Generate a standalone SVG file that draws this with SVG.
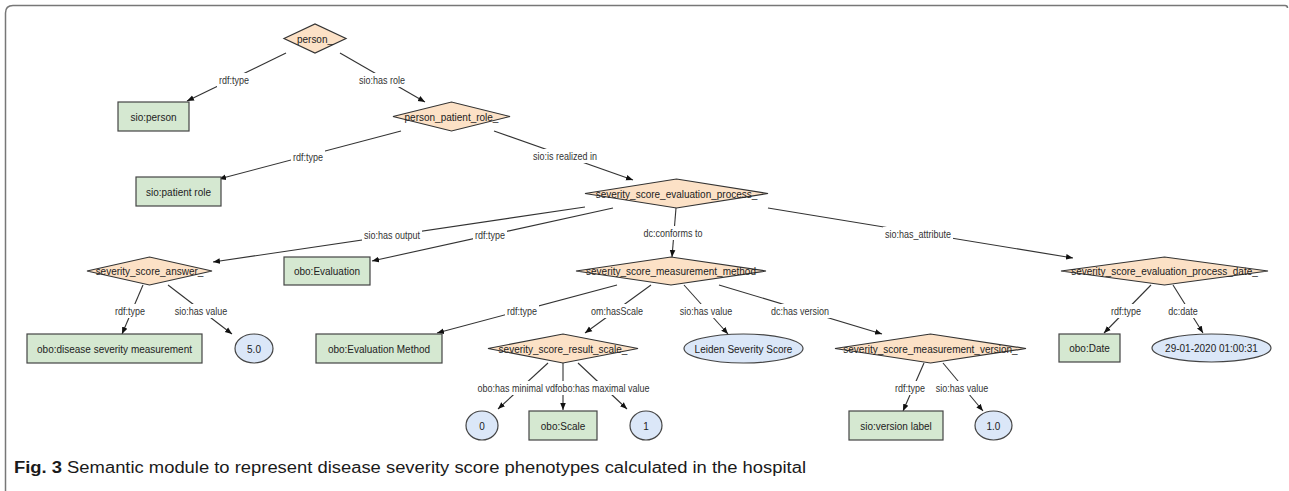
<svg xmlns="http://www.w3.org/2000/svg" width="1289" height="491" viewBox="0 0 1289 491">
<style>
.d{fill:#fce1c6;stroke:#333;stroke-width:1.2}
.r{fill:#d5e8d1;stroke:#444;stroke-width:1.2}
.e{fill:#dbe7f8;stroke:#444;stroke-width:1.2}
.t{font-family:"Liberation Sans",Arial,sans-serif;font-size:10px;fill:#222;text-anchor:middle}
.l{font-family:"Liberation Sans",Arial,sans-serif;font-size:9px;fill:#333;text-anchor:middle}
.bg{fill:#fff}
.c{stroke:#333;stroke-width:1.1;fill:none;marker-end:url(#arr)}
.cap{font-family:"Liberation Sans",Arial,sans-serif;font-size:16px;fill:#1a1a1a}
</style>
<defs>
<marker id="arr" viewBox="0 0 10 10" refX="10" refY="5" markerWidth="7" markerHeight="7" markerUnits="userSpaceOnUse" orient="auto"><path d="M0,1 L10,5 L0,9 z" fill="#111"/></marker>
</defs>
<rect width="1289" height="491" fill="#fff"/>
<path d="M5.5,491 V13 Q5.5,5.5 13,5.5 H1285 Q1287.5,5.5 1287.5,8" fill="none" stroke="#777" stroke-width="1.5"/>

<g id="connectors">
<line class="c" x1="286" y1="53" x2="187" y2="101"/>
<line class="c" x1="340" y1="53" x2="425" y2="102"/>
<line class="c" x1="401" y1="131" x2="219" y2="179"/>
<line class="c" x1="494" y1="131" x2="633" y2="180"/>
<line class="c" x1="585" y1="207" x2="213" y2="262"/>
<line class="c" x1="613" y1="208" x2="372" y2="261"/>
<line class="c" x1="676" y1="208" x2="672" y2="257"/>
<line class="c" x1="768" y1="208" x2="1073" y2="258"/>
<line class="c" x1="143" y1="285" x2="122" y2="334"/>
<line class="c" x1="168" y1="285" x2="232" y2="334"/>
<line class="c" x1="617" y1="285" x2="437" y2="333"/>
<line class="c" x1="651" y1="285" x2="585" y2="333"/>
<line class="c" x1="684" y1="285" x2="728" y2="334"/>
<line class="c" x1="719" y1="285" x2="882" y2="334"/>
<line class="c" x1="1151" y1="285" x2="1104" y2="333"/>
<line class="c" x1="1173" y1="285" x2="1203" y2="333"/>
<line class="c" x1="548" y1="363" x2="498" y2="409"/>
<line class="c" x1="563" y1="363" x2="563" y2="410"/>
<line class="c" x1="578" y1="363" x2="627" y2="409"/>
<line class="c" x1="924" y1="363" x2="903" y2="411"/>
<line class="c" x1="943" y1="363" x2="983" y2="411"/>

<rect class="bg" x="217" y="73" width="34" height="14"/><text class="l" x="234" y="0" transform="translate(0,83.5) scale(1,1.15)">rdf:type</text>
<rect class="bg" x="357" y="73" width="50" height="14"/><text class="l" x="382" y="0" transform="translate(0,83.5) scale(1,1.15)">sio:has role</text>
<rect class="bg" x="291" y="150" width="34" height="14"/><text class="l" x="308" y="0" transform="translate(0,160.5) scale(1,1.15)">rdf:type</text>
<rect class="bg" x="531" y="149" width="68" height="14"/><text class="l" x="565" y="0" transform="translate(0,159.5) scale(1,1.15)">sio:is realized in</text>
<rect class="bg" x="362" y="228" width="60" height="14"/><text class="l" x="392" y="0" transform="translate(0,238.5) scale(1,1.15)">sio:has output</text>
<rect class="bg" x="473" y="228" width="34" height="14"/><text class="l" x="490" y="0" transform="translate(0,238.5) scale(1,1.15)">rdf:type</text>
<rect class="bg" x="641.5" y="226" width="63" height="14"/><text class="l" x="673" y="0" transform="translate(0,236.5) scale(1,1.15)">dc:conforms to</text>
<rect class="bg" x="883" y="227" width="70" height="14"/><text class="l" x="918" y="0" transform="translate(0,237.5) scale(1,1.15)">sio:has_attribute</text>
<rect class="bg" x="113" y="304" width="34" height="14"/><text class="l" x="130" y="0" transform="translate(0,314.5) scale(1,1.15)">rdf:type</text>
<rect class="bg" x="172.75" y="304" width="56.5" height="14"/><text class="l" x="201" y="0" transform="translate(0,314.5) scale(1,1.15)">sio:has value</text>
<rect class="bg" x="505" y="304" width="34" height="14"/><text class="l" x="522" y="0" transform="translate(0,314.5) scale(1,1.15)">rdf:type</text>
<rect class="bg" x="589" y="304" width="56" height="14"/><text class="l" x="617" y="0" transform="translate(0,314.5) scale(1,1.15)">om:hasScale</text>
<rect class="bg" x="677.75" y="304" width="56.5" height="14"/><text class="l" x="706" y="0" transform="translate(0,314.5) scale(1,1.15)">sio:has value</text>
<rect class="bg" x="769" y="304" width="62" height="14"/><text class="l" x="800" y="0" transform="translate(0,314.5) scale(1,1.15)">dc:has version</text>
<rect class="bg" x="1109" y="304" width="34" height="14"/><text class="l" x="1126" y="0" transform="translate(0,314.5) scale(1,1.15)">rdf:type</text>
<rect class="bg" x="1166" y="304" width="34" height="14"/><text class="l" x="1183" y="0" transform="translate(0,314.5) scale(1,1.15)">dc:date</text>
<rect class="bg" x="475.5" y="381" width="176" height="14"/><text class="l" x="563.5" y="0" transform="translate(0,391.5) scale(1,1.15)">obo:has minimal vdfobo:has maximal value</text>
<rect class="bg" x="893" y="381" width="34" height="14"/><text class="l" x="910" y="0" transform="translate(0,391.5) scale(1,1.15)">rdf:type</text>
<rect class="bg" x="933.75" y="381" width="56.5" height="14"/><text class="l" x="962" y="0" transform="translate(0,391.5) scale(1,1.15)">sio:has value</text>
</g>

<g id="n-person"><polygon class="d" points="284,38.5 315,24 346,38.5 315,53"/><text class="t" x="315" y="0" transform="translate(0,42.5) scale(1,1.15)">person_</text></g>
<g id="n-sio-person"><rect class="r" x="118" y="102" width="71" height="29"/><text class="t" x="153.5" y="0" transform="translate(0,120.5) scale(1,1.15)">sio:person</text></g>
<g id="n-person-patient-role"><polygon class="d" points="393,116.5 451.5,102 510,116.5 451.5,131"/><text class="t" x="451.5" y="0" transform="translate(0,120.5) scale(1,1.15)">person_patient_role_</text></g>
<g id="n-sio-patient-role"><rect class="r" x="136" y="177" width="85" height="29"/><text class="t" x="178.5" y="0" transform="translate(0,195.5) scale(1,1.15)">sio:patient role</text></g>
<g id="n-evaluation-process"><polygon class="d" points="585,193.5 676.5,179 768,193.5 676.5,208"/><text class="t" x="676.5" y="0" transform="translate(0,197.5) scale(1,1.15)">severity_score_evaluation_process_</text></g>
<g id="n-answer"><polygon class="d" points="87,271 149.5,257 212,271 149.5,285"/><text class="t" x="149.5" y="0" transform="translate(0,275) scale(1,1.15)">severity_score_answer_</text></g>
<g id="n-obo-evaluation"><rect class="r" x="284" y="257" width="86" height="28"/><text class="t" x="327" y="0" transform="translate(0,275) scale(1,1.15)">obo:Evaluation</text></g>
<g id="n-measurement-method"><polygon class="d" points="576,271 671,257 766,271 671,285"/><text class="t" x="671" y="0" transform="translate(0,275) scale(1,1.15)">severity_score_measurement_method</text></g>
<g id="n-process-date"><polygon class="d" points="1061,271 1164.5,257 1268,271 1164.5,285"/><text class="t" x="1164.5" y="0" transform="translate(0,275) scale(1,1.15)">severity_score_evaluation_process_date_</text></g>
<g id="n-disease-severity"><rect class="r" x="27" y="334" width="175" height="29"/><text class="t" x="114.5" y="0" transform="translate(0,352.5) scale(1,1.15)">obo:disease severity measurement</text></g>
<g id="n-value-5"><ellipse class="e" cx="254" cy="348.5" rx="19" ry="14.5"/><text class="t" x="254" y="0" transform="translate(0,352.5) scale(1,1.15)">5.0</text></g>
<g id="n-evaluation-method"><rect class="r" x="316" y="334" width="126" height="29"/><text class="t" x="379" y="0" transform="translate(0,352.5) scale(1,1.15)">obo:Evaluation Method</text></g>
<g id="n-result-scale"><polygon class="d" points="488,348.5 563,334 638,348.5 563,363"/><text class="t" x="563" y="0" transform="translate(0,352.5) scale(1,1.15)">severity_score_result_scale_</text></g>
<g id="n-leiden"><ellipse class="e" cx="743.5" cy="348.5" rx="59.5" ry="14.5"/><text class="t" x="743.5" y="0" transform="translate(0,352.5) scale(1,1.15)">Leiden Severity Score</text></g>
<g id="n-measurement-version"><polygon class="d" points="835,348.5 930.5,334 1026,348.5 930.5,363"/><text class="t" x="930.5" y="0" transform="translate(0,352.5) scale(1,1.15)">severity_score_measurement_version_</text></g>
<g id="n-obo-date"><rect class="r" x="1059" y="334" width="61" height="28"/><text class="t" x="1089.5" y="0" transform="translate(0,352) scale(1,1.15)">obo:Date</text></g>
<g id="n-date-value"><ellipse class="e" cx="1211.5" cy="348" rx="59.5" ry="14"/><text class="t" x="1211.5" y="0" transform="translate(0,352) scale(1,1.15)">29-01-2020 01:00:31</text></g>
<g id="n-zero"><ellipse class="e" cx="482" cy="425.5" rx="16" ry="14.5"/><text class="t" x="482" y="0" transform="translate(0,429.5) scale(1,1.15)">0</text></g>
<g id="n-obo-scale"><rect class="r" x="529" y="411" width="68" height="29"/><text class="t" x="563" y="0" transform="translate(0,429.5) scale(1,1.15)">obo:Scale</text></g>
<g id="n-one"><ellipse class="e" cx="646" cy="425.5" rx="16" ry="14.5"/><text class="t" x="646" y="0" transform="translate(0,429.5) scale(1,1.15)">1</text></g>
<g id="n-version-label"><rect class="r" x="849" y="411" width="94" height="29"/><text class="t" x="896" y="0" transform="translate(0,429.5) scale(1,1.15)">sio:version label</text></g>
<g id="n-version-value"><ellipse class="e" cx="993.5" cy="425.5" rx="18.5" ry="14.5"/><text class="t" x="993.5" y="0" transform="translate(0,429.5) scale(1,1.15)">1.0</text></g>

<text class="cap" x="14" y="473" textLength="792" lengthAdjust="spacingAndGlyphs"><tspan font-weight="bold">Fig. 3</tspan> Semantic module to represent disease severity score phenotypes calculated in the hospital</text>
</svg>
